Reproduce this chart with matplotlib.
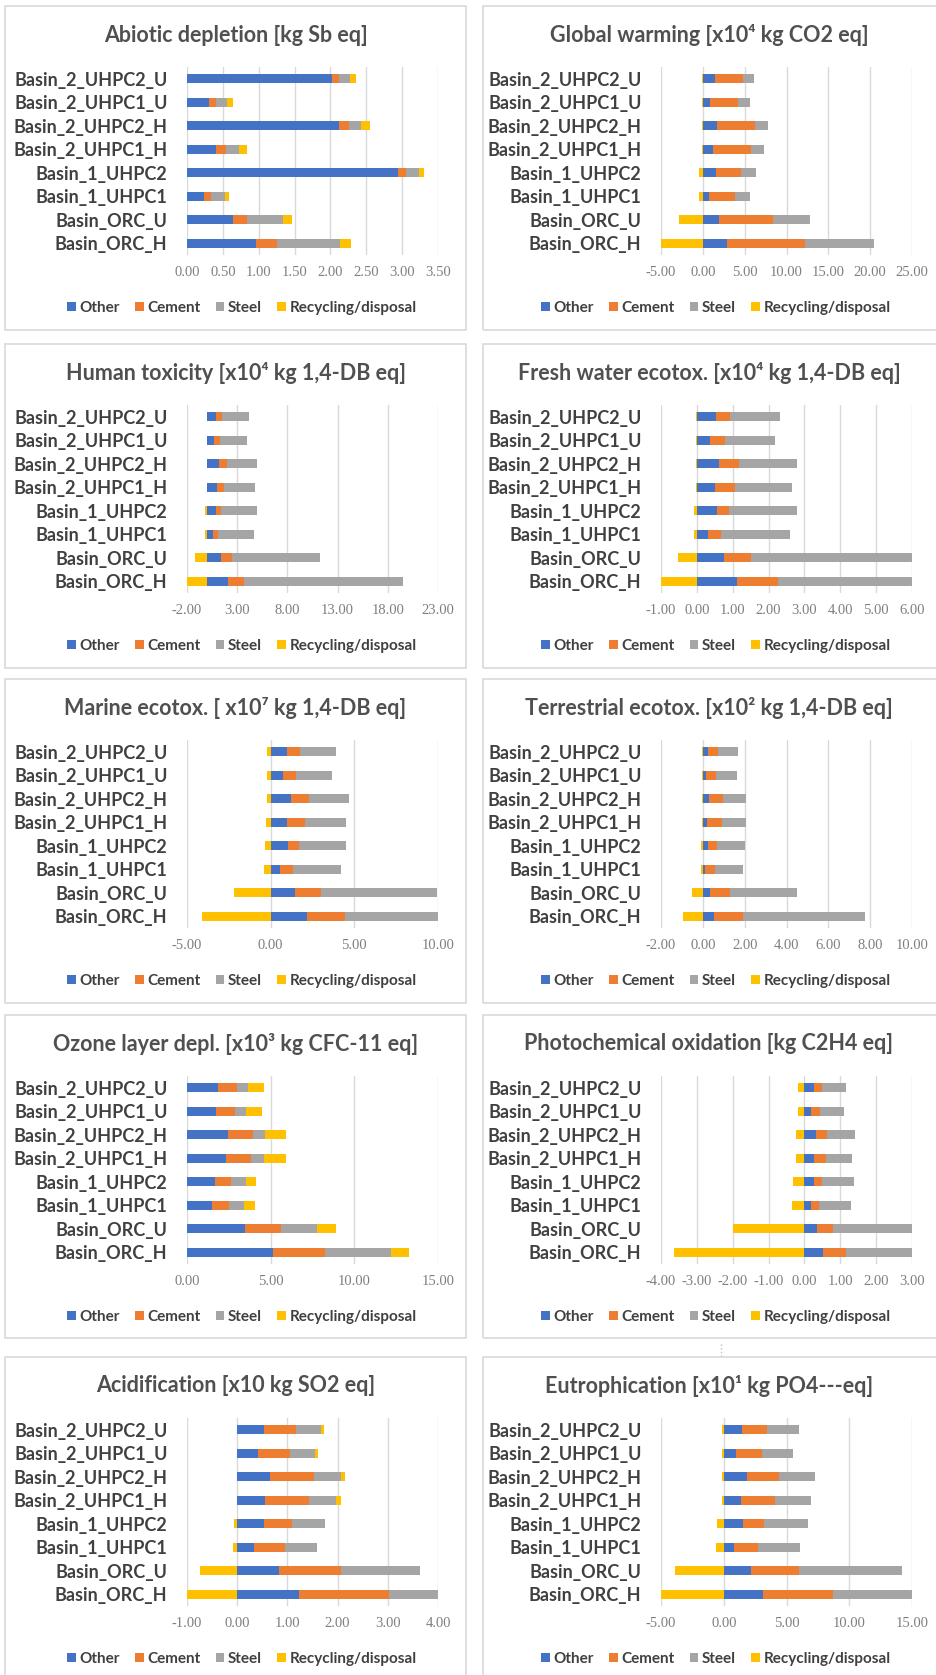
import numpy as np
import matplotlib
matplotlib.use('Agg')
from matplotlib import pyplot as plt
from matplotlib.patches import Patch, Rectangle
from matplotlib.lines import Line2D

# cases as they are listed top to bottom in every chart
cases = ['Basin_2_UHPC2_U', 'Basin_2_UHPC1_U', 'Basin_2_UHPC2_H', 'Basin_2_UHPC1_H',
         'Basin_1_UHPC2', 'Basin_1_UHPC1', 'Basin_ORC_U', 'Basin_ORC_H']
sources = ['Other', 'Cement', 'Steel', 'Recycling/disposal']
colors = ['#4472C4', '#ED7D31', '#A5A5A5', '#FFC000']

# each impact: [other, cement, steel, recycling/disposal], one value per case
abiotic = [[2.02, 0.30, 2.12, 0.41, 2.94, 0.24, 0.64, 0.96],
           [0.10, 0.10, 0.14, 0.14, 0.11, 0.10, 0.20, 0.29],
           [0.15, 0.16, 0.17, 0.17, 0.19, 0.19, 0.50, 0.89],
           [0.09, 0.08, 0.12, 0.12, 0.06, 0.06, 0.13, 0.14]]
global_warming = [[1.41, 0.90, 1.73, 1.22, 1.61, 0.70, 1.97, 2.89],
                  [3.35, 3.30, 4.47, 4.58, 2.91, 3.10, 6.38, 9.36],
                  [1.40, 1.40, 1.55, 1.51, 1.83, 1.88, 4.46, 8.17],
                  [-0.1, -0.1, -0.1, -0.1, -0.4, -0.4, -2.8, -5.0]]
human_tox = [[0.93, 0.70, 1.20, 1.00, 0.90, 0.57, 1.40, 2.10],
             [0.57, 0.57, 0.77, 0.67, 0.50, 0.56, 1.13, 1.60],
             [2.63, 2.66, 3.00, 3.10, 3.57, 3.57, 8.74, 15.77],
             [-0.05, -0.05, -0.05, -0.05, -0.2, -0.2, -1.2, -2.0]]
fresh_water = [[0.53, 0.37, 0.63, 0.51, 0.55, 0.31, 0.76, 1.11],
               [0.39, 0.41, 0.55, 0.55, 0.35, 0.37, 0.76, 1.14],
               [1.41, 1.41, 1.61, 1.60, 1.88, 1.91, 4.60, 5.00],
               [-0.02, -0.02, -0.02, -0.02, -0.07, -0.07, -0.53, -1.0]]
marine = [[0.98, 0.72, 1.22, 0.98, 1.02, 0.58, 1.48, 2.18],
          [0.80, 0.82, 1.06, 1.10, 0.66, 0.74, 1.54, 2.25],
          [2.12, 2.12, 2.41, 2.41, 2.85, 2.87, 6.90, 6.00],
          [-0.2, -0.2, -0.2, -0.25, -0.35, -0.4, -2.2, -4.1]]
terrestrial = [[0.24, 0.16, 0.29, 0.22, 0.26, 0.11, 0.35, 0.53],
               [0.50, 0.48, 0.69, 0.68, 0.44, 0.47, 0.95, 1.41],
               [0.96, 0.99, 1.08, 1.15, 1.30, 1.32, 3.21, 5.79],
               [-0.05, -0.05, -0.05, -0.05, -0.1, -0.1, -0.5, -0.95]]
ozone = [[1.86, 1.74, 2.47, 2.35, 1.66, 1.50, 3.49, 5.11],
         [1.13, 1.15, 1.46, 1.46, 0.97, 0.99, 2.10, 3.11],
         [0.66, 0.66, 0.74, 0.80, 0.90, 0.92, 2.19, 3.99],
         [0.98, 0.94, 1.27, 1.29, 0.62, 0.64, 1.10, 1.08]]
photochem = [[0.26, 0.19, 0.31, 0.27, 0.27, 0.19, 0.35, 0.53],
             [0.23, 0.24, 0.33, 0.32, 0.22, 0.22, 0.45, 0.64],
             [0.67, 0.68, 0.76, 0.75, 0.89, 0.88, 2.30, 2.00],
             [-0.18, -0.18, -0.24, -0.24, -0.32, -0.34, -2.0, -3.65]]
acidification = [[0.53, 0.41, 0.66, 0.55, 0.53, 0.34, 0.84, 1.24],
                 [0.65, 0.64, 0.87, 0.88, 0.57, 0.61, 1.23, 1.79],
                 [0.48, 0.49, 0.54, 0.54, 0.64, 0.64, 1.57, 1.10],
                 [0.06, 0.06, 0.07, 0.09, -0.06, -0.08, -0.75, -1.0]]
eutrophication = [[1.48, 1.00, 1.85, 1.35, 1.56, 0.81, 2.15, 3.13],
                  [2.00, 2.03, 2.56, 2.72, 1.68, 1.90, 3.81, 5.60],
                  [2.48, 2.50, 2.88, 2.90, 3.44, 3.36, 8.27, 6.50],
                  [-0.1, -0.1, -0.1, -0.1, -0.5, -0.6, -3.9, -5.0]]

# title, data, x min, x max, tick step
charts = [
    ('Abiotic depletion [kg Sb eq]', abiotic, 0, 3.5, 0.5),
    ('Global warming [x10\u2074 kg CO2 eq]', global_warming, -5, 25, 5),
    ('Human toxicity [x10\u2074 kg 1,4-DB eq]', human_tox, -2, 23, 5),
    ('Fresh water ecotox. [x10\u2074 kg 1,4-DB eq]', fresh_water, -1, 6, 1),
    ('Marine ecotox. [ x10\u2077 kg 1,4-DB eq]', marine, -5, 10, 5),
    ('Terrestrial ecotox. [x10\u00b2 kg 1,4-DB eq]', terrestrial, -2, 10, 2),
    ('Ozone layer depl. [x10\u00b3 kg CFC-11 eq]', ozone, 0, 15, 5),
    ('Photochemical oxidation [kg C2H4 eq]', photochem, -4, 3, 1),
    ('Acidification [x10 kg SO2 eq]', acidification, -1, 4, 1),
    ('Eutrophication [x10\u00b9 kg PO4---eq]', eutrophication, -5, 15, 5),
]

W, H = 936, 1675
fig = plt.figure(figsize=(W / 100, H / 100), dpi=100)
fig.patch.set_facecolor('white')

row_top = [6, 344, 679, 1015, 1357]
row_bot = [330, 668, 1003, 1338, 1690]
box_x = [(5, 466), (483, 945)]
plot_x = [(187, 438), (661, 912)]
legend_cx = [242, 716]

label_font = ['Lato', 'DejaVu Sans']
text_col = '#404040'

for i, (title, data, xmin, xmax, step) in enumerate(charts):
    r, c = divmod(i, 2)
    top = row_top[r]
    # chart border
    bx0, bx1 = box_x[c]
    fig.patches.append(Rectangle((bx0 / W, 1 - row_bot[r] / H), (bx1 - bx0) / W,
                                 (row_bot[r] - top) / H, transform=fig.transFigure,
                                 fill=False, edgecolor='#D9D9D9', lw=1.2))
    fig.text((bx0 + bx1) / 2 / W if c == 0 else 709 / W, 1 - (top + 29) / H, title,
             ha='center', va='center', fontsize=15.5, fontweight='bold',
             color='#505050', family=label_font)

    x0, x1 = plot_x[c]
    y0, y1 = top + 61, top + 249
    ax = fig.add_axes([x0 / W, 1 - y1 / H, (x1 - x0) / W, (y1 - y0) / H])
    ypos = np.arange(len(cases))
    pos_left = np.zeros(len(cases))
    neg_left = np.zeros(len(cases))
    for vals, col in zip(data, colors):
        vals = np.array(vals)
        left = np.where(vals >= 0, pos_left, neg_left)
        ax.barh(ypos, vals, left=left, height=0.4, color=col, zorder=3)
        pos_left = pos_left + np.where(vals >= 0, vals, 0)
        neg_left = neg_left + np.where(vals < 0, vals, 0)

    ticks = np.arange(xmin, xmax + step / 2, step)
    ax.set_xlim(xmin, xmax)
    ax.set_ylim(len(cases) - 0.5, -0.5)
    ax.set_xticks(ticks)
    ax.set_xticklabels([f'{t:.2f}' for t in ticks], family='Liberation Serif',
                       fontsize=10.5, color='#7F7F7F')
    ax.set_yticks(ypos)
    ax.set_yticklabels(cases, fontsize=13, fontweight='bold', color=text_col,
                       family=label_font)
    ax.tick_params(axis='x', length=0, pad=8)
    ax.tick_params(axis='y', length=0, pad=14)
    ax.grid(axis='x', color='#D9D9D9', lw=1, zorder=0)
    for s in ax.spines.values():
        s.set_visible(False)

    handles = [Patch(facecolor=col, edgecolor='none') for col in colors]
    ax.legend(handles, sources, loc='center', ncol=4, frameon=False,
              bbox_to_anchor=(legend_cx[c] / W, 1 - (top + 302) / H),
              bbox_transform=fig.transFigure, handlelength=0.55, handleheight=0.55,
              handletextpad=0.25, columnspacing=1.0,
              prop={'family': label_font, 'size': 11, 'weight': 'bold'},
              labelcolor=text_col)

# small dotted mark between the lower charts
fig.lines.append(Line2D([721 / W, 721 / W], [1 - 1344 / H, 1 - 1356 / H],
                        transform=fig.transFigure, color='#BFBFBF', lw=1, ls=':'))

fig.savefig('out.png', dpi=100)
